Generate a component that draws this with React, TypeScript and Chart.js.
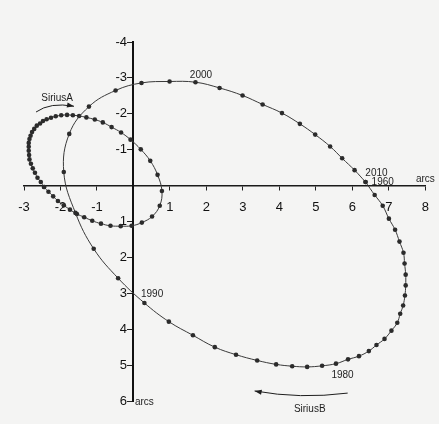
import React, { useEffect, useRef } from 'react';
import { Chart, registerables } from 'chart.js';

Chart.register(...registerables);

// Sirius B relative orbit, one point per year 1960..2010 (arcsec)
const SIRIUS_B_X = [
  6.36, 6.61, 6.83, 7.0, 7.17, 7.29, 7.4, 7.43, 7.46, 7.46, 7.44, 7.39, 7.31, 7.23, 7.07, 6.88, 6.66,
  6.45, 6.18, 5.88, 5.55, 5.17, 4.76, 4.35, 3.91, 3.39, 2.81, 2.23, 1.63, 0.97, 0.3, -0.42, -1.09,
  -1.59, -1.91, -1.76, -1.22, -0.49, 0.22, 0.99, 1.7, 2.36, 2.99, 3.54, 4.07, 4.56, 4.98, 5.39, 5.72,
  6.06, 6.36,
];
const SIRIUS_B_Y = [
  -0.1, 0.26, 0.56, 0.92, 1.23, 1.56, 1.87, 2.17, 2.48, 2.78, 3.06, 3.34, 3.57, 3.82, 4.04, 4.27, 4.44,
  4.61, 4.75, 4.84, 4.96, 5.02, 5.05, 5.03, 4.98, 4.87, 4.71, 4.5, 4.17, 3.79, 3.27, 2.58, 1.76, 0.76,
  -0.38, -1.44, -2.2, -2.65, -2.86, -2.9, -2.88, -2.72, -2.51, -2.26, -2.02, -1.72, -1.42, -1.09,
  -0.76, -0.43, -0.1,
];

// Sirius A orbit, same years
const SIRIUS_A_X = [
  -2.45, -2.54, -2.63, -2.7, -2.76, -2.81, -2.85, -2.86, -2.87, -2.87, -2.87, -2.85, -2.82, -2.78,
  -2.72, -2.65, -2.56, -2.48, -2.38, -2.26, -2.13, -1.98, -1.82, -1.66, -1.49, -1.29, -1.06, -0.84,
  -0.6, -0.34, -0.08, 0.2, 0.46, 0.66, 0.78, 0.72, 0.51, 0.23, -0.05, -0.35, -0.63, -0.89, -1.13,
  -1.35, -1.55, -1.74, -1.91, -2.07, -2.2, -2.33, -2.45,
];
const SIRIUS_A_Y = [
  0.04, -0.1, -0.22, -0.36, -0.48, -0.61, -0.73, -0.85, -0.97, -1.08, -1.19, -1.3, -1.39, -1.49,
  -1.58, -1.67, -1.73, -1.8, -1.85, -1.89, -1.93, -1.96, -1.97, -1.96, -1.94, -1.9, -1.84, -1.76,
  -1.63, -1.48, -1.28, -1.01, -0.69, -0.3, 0.15, 0.56, 0.86, 1.03, 1.12, 1.13, 1.12, 1.06, 0.98,
  0.88, 0.79, 0.67, 0.55, 0.43, 0.3, 0.17, 0.04,
];

// Axis ranges (arcsec)
const X_MIN = -3;
const X_MAX = 8;
const Y_MIN = -4;
const Y_MAX = 6;

// Text notes placed in data coordinates
const NOTE_TEXT = ['2000', '2010', '1960', '1990', '1980', 'arcs', 'arcs', 'SiriusA', 'SiriusB'];
const NOTE_X = [1.85, 6.66, 6.83, 0.51, 5.73, 8.0, 0.04, -2.09, 4.83];
const NOTE_Y = [-3.08, -0.35, -0.1, 3.02, 5.28, -0.17, 6.03, -2.44, 6.23];
const NOTE_ALIGN = ['center', 'center', 'center', 'center', 'center', 'center', 'left', 'center', 'center'];

// Motion arrows: start, control, end (arrowhead at end)
const ARROW_START_X = [-2.67, 5.87];
const ARROW_START_Y = [-2.05, 5.78];
const ARROW_CTRL_X = [-2.28, 4.56];
const ARROW_CTRL_Y = [-2.33, 5.95];
const ARROW_END_X = [-1.63, 3.32];
const ARROW_END_Y = [-2.21, 5.72];

const INK = '#2b2b2b';
const FONT = '"Liberation Sans", Arial, Helvetica, sans-serif';

const toPoints = (xs: number[], ys: number[]) =>
  xs.slice(0, Math.min(xs.length, ys.length)).map((x, i) => ({ x, y: ys[i] }));

const paperPlugin = {
  id: 'paper',
  beforeDraw(chart: any) {
    const { ctx, width, height } = chart;
    ctx.save();
    ctx.fillStyle = '#f4f4f3';
    ctx.fillRect(0, 0, width, height);
    ctx.restore();
  },
};

const notesPlugin = {
  id: 'notes',
  afterDatasetsDraw(chart: any) {
    const { ctx } = chart;
    const xs = chart.scales.x;
    const ys = chart.scales.y;
    ctx.save();
    ctx.fillStyle = '#1e1e1e';
    ctx.font = `10px ${FONT}`;
    ctx.textBaseline = 'middle';
    NOTE_TEXT.forEach((t, i) => {
      ctx.textAlign = NOTE_ALIGN[i] as CanvasTextAlign;
      ctx.fillText(t, xs.getPixelForValue(NOTE_X[i]), ys.getPixelForValue(NOTE_Y[i]));
    });

    ctx.strokeStyle = '#1e1e1e';
    ctx.lineWidth = 1;
    ARROW_START_X.forEach((_, i) => {
      const x1 = xs.getPixelForValue(ARROW_START_X[i]);
      const y1 = ys.getPixelForValue(ARROW_START_Y[i]);
      const cx = xs.getPixelForValue(ARROW_CTRL_X[i]);
      const cy = ys.getPixelForValue(ARROW_CTRL_Y[i]);
      const x2 = xs.getPixelForValue(ARROW_END_X[i]);
      const y2 = ys.getPixelForValue(ARROW_END_Y[i]);
      ctx.beginPath();
      ctx.moveTo(x1, y1);
      ctx.quadraticCurveTo(cx, cy, x2, y2);
      ctx.stroke();
      const ang = Math.atan2(y2 - cy, x2 - cx);
      const len = 7;
      const half = 2.6;
      ctx.beginPath();
      ctx.moveTo(x2, y2);
      ctx.lineTo(
        x2 - len * Math.cos(ang) + half * Math.sin(ang),
        y2 - len * Math.sin(ang) - half * Math.cos(ang)
      );
      ctx.lineTo(
        x2 - len * Math.cos(ang) - half * Math.sin(ang),
        y2 - len * Math.sin(ang) + half * Math.cos(ang)
      );
      ctx.closePath();
      ctx.fill();
    });
    ctx.restore();
  },
};

const xTickLabel = (v: any) => (Number(v) === 0 ? '' : String(v));
// y labels sit right-aligned on the crossing axis; trailing gap keeps them clear of the tick marks
const yTickLabel = (v: any) => (Number(v) === 0 ? '' : `${v}\u2002`);

export default function App() {
  const canvasRef = useRef<HTMLCanvasElement | null>(null);

  useEffect(() => {
    if (!canvasRef.current) return;
    const orbitStyle = {
      showLine: true,
      tension: 0.4,
      borderColor: '#3a3a3a',
      borderWidth: 1,
      pointRadius: 2.3,
      pointBorderWidth: 0,
      pointBackgroundColor: INK,
      pointHoverRadius: 2.3,
      fill: false,
    };
    const chart = new Chart(canvasRef.current, {
      type: 'scatter',
      data: {
        datasets: [
          { label: 'SiriusB', data: toPoints(SIRIUS_B_X, SIRIUS_B_Y), ...orbitStyle },
          { label: 'SiriusA', data: toPoints(SIRIUS_A_X, SIRIUS_A_Y), ...orbitStyle },
        ],
      },
      options: {
        animation: false,
        responsive: true,
        maintainAspectRatio: false,
        layout: { padding: { left: 24, right: 13, top: 42, bottom: 23 } },
        plugins: {
          legend: { display: false },
          tooltip: { enabled: false },
        },
        scales: {
          x: {
            type: 'linear',
            position: { y: 0 },
            min: X_MIN,
            max: X_MAX,
            ticks: {
              stepSize: 1,
              autoSkip: false,
              maxRotation: 0,
              padding: 10,
              color: '#111',
              font: { family: FONT, size: 13 },
              callback: xTickLabel,
            },
            grid: {
              drawOnChartArea: false,
              drawTicks: true,
              tickLength: 4,
              color: '#222',
              lineWidth: 1,
            },
            border: { display: true, color: '#1a1a1a', width: 1.5 },
          },
          y: {
            type: 'linear',
            position: { x: 0 },
            min: Y_MIN,
            max: Y_MAX,
            reverse: true,
            ticks: {
              stepSize: 1,
              autoSkip: false,
              padding: 2,
              color: '#111',
              font: { family: FONT, size: 13 },
              callback: yTickLabel,
            },
            grid: {
              drawOnChartArea: false,
              drawTicks: true,
              tickLength: 5,
              color: '#222',
              lineWidth: 1,
            },
            border: { display: true, color: '#111', width: 2 },
          },
        },
      } as any,
      plugins: [paperPlugin, notesPlugin],
    });
    return () => chart.destroy();
  }, []);

  return (
    <div style={{ position: 'fixed', left: 0, top: 0, width: 439, height: 424 }}>
      <canvas ref={canvasRef} />
    </div>
  );
}
